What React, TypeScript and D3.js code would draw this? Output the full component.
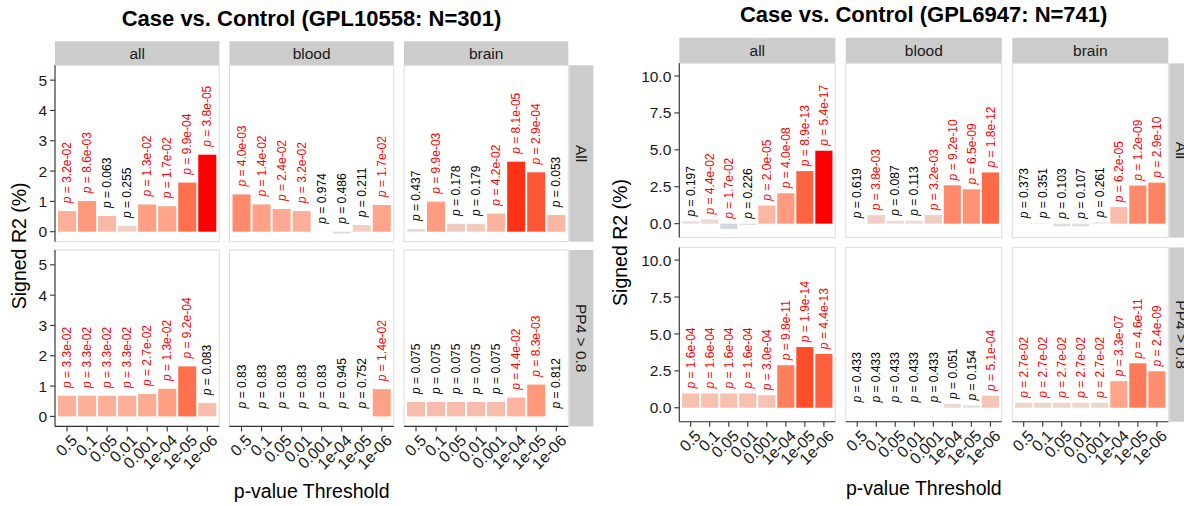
import React from "react";
import * as d3 from "d3";

// ---------- data ----------
const thresholds = ["0.5", "0.1", "0.05", "0.01", "0.001", "1e-04", "1e-05", "1e-06"];
const tissues = ["all", "blood", "brain"];
const subsets = ["All", "PP4 > 0.8"];

// GPL10558 (N=301): signed R2 (%) per tissue, subset "All"
const r2_10558_All = [
  [0.68, 1.01, 0.52, 0.19, 0.9, 0.84, 1.62, 2.54],
  [1.23, 0.9, 0.75, 0.68, 0.005, -0.06, 0.22, 0.88],
  [0.09, 0.99, 0.26, 0.26, 0.6, 2.31, 1.96, 0.55],
];
const p_10558_All = [
  ["3.2e-02", "8.6e-03", "0.063", "0.255", "1.3e-02", "1.7e-02", "9.9e-04", "3.8e-05"],
  ["4.0e-03", "1.4e-02", "2.4e-02", "3.2e-02", "0.974", "0.486", "0.211", "1.7e-02"],
  ["0.437", "9.9e-03", "0.178", "0.179", "4.2e-02", "8.1e-05", "2.9e-04", "0.053"],
];
// GPL10558, subset "PP4 > 0.8"
const r2_10558_PP4 = [
  [0.68, 0.68, 0.68, 0.68, 0.74, 0.91, 1.65, 0.44],
  [0.004, 0.004, 0.004, 0.004, 0.004, 0.001, 0.002, 0.9],
  [0.48, 0.48, 0.48, 0.48, 0.48, 0.62, 1.05, 0.003],
];
const p_10558_PP4 = [
  ["3.3e-02", "3.3e-02", "3.3e-02", "3.3e-02", "2.7e-02", "1.3e-02", "9.2e-04", "0.083"],
  ["0.83", "0.83", "0.83", "0.83", "0.83", "0.945", "0.752", "1.4e-02"],
  ["0.075", "0.075", "0.075", "0.075", "0.075", "4.4e-02", "8.3e-03", "0.812"],
];

// GPL6947 (N=741), subset "All"
const r2_6947_All = [
  [0.16, 0.29, -0.36, -0.09, 1.23, 2.06, 3.56, 4.94],
  [0.03, 0.58, 0.2, 0.2, 0.58, 2.6, 2.33, 3.47],
  [0.03, 0.03, -0.18, -0.18, 0.08, 1.12, 2.58, 2.78],
];
const p_6947_All = [
  ["0.197", "4.4e-02", "1.7e-02", "0.226", "2.0e-05", "4.0e-08", "8.9e-13", "5.4e-17"],
  ["0.619", "3.8e-03", "0.087", "0.113", "3.2e-03", "9.2e-10", "6.5e-09", "1.8e-12"],
  ["0.373", "0.351", "0.103", "0.107", "0.261", "6.2e-05", "1.2e-09", "2.9e-10"],
];
// GPL6947, subset "PP4 > 0.8"
const r2_6947_PP4 = [
  [0.97, 0.97, 0.97, 0.97, 0.85, 2.88, 4.11, 3.64],
  [0.02, 0.02, 0.02, 0.02, 0.02, 0.27, 0.16, 0.81],
  [0.34, 0.34, 0.34, 0.34, 0.34, 1.8, 3.01, 2.47],
];
const p_6947_PP4 = [
  ["1.6e-04", "1.6e-04", "1.6e-04", "1.6e-04", "3.0e-04", "9.8e-11", "1.9e-14", "4.4e-13"],
  ["0.433", "0.433", "0.433", "0.433", "0.433", "0.051", "0.154", "5.1e-04"],
  ["2.7e-02", "2.7e-02", "2.7e-02", "2.7e-02", "2.7e-02", "3.3e-07", "4.6e-11", "2.4e-09"],
];

const ticks10558 = [0, 1, 2, 3, 4, 5];
const ticks6947 = [0, 2.5, 5, 7.5, 10];

// ---------- layout ----------
const FONT = "'Liberation Sans', Arial, Helvetica, sans-serif";

const charts = [
  {
    title: "Case vs. Control (GPL10558: N=301)",
    r2: [r2_10558_All, r2_10558_PP4],
    p: [p_10558_All, p_10558_PP4],
    ticks: ticks10558,
    fmt: d3.format("d"),
    titleX: 311.5,
    titleY: 26,
    x0: 55,
    panelW: 164.3,
    gap: 10.2,
    stripTop: 41.3,
    rowTops: [65.3, 250],
    rowH: 176.4,
    domain: [-0.33, 5.49],
    yTitleX: 26,
    xTitleY: 498,
    labelOffset: 0.26,
  },
  {
    title: "Case vs. Control (GPL6947: N=741)",
    r2: [r2_6947_All, r2_6947_PP4],
    p: [p_6947_All, p_6947_PP4],
    ticks: ticks6947,
    fmt: d3.format(".1f"),
    titleX: 923.7,
    titleY: 22,
    x0: 679.3,
    panelW: 156,
    gap: 10.5,
    stripTop: 37.8,
    rowTops: [63.3, 247.4],
    rowH: 174.3,
    domain: [-0.944, 10.86],
    yTitleX: 627,
    xTitleY: 495,
    labelOffset: 0.33,
  },
];

const score = (v: number, p: string) => Math.sign(v || 1) * -Math.log10(parseFloat(p));

function Chart({ c }: { c: (typeof charts)[number] }) {
  let M = 0;
  c.r2.forEach((row, ri) => row.forEach((vals, ti) => vals.forEach((v, i) => {
    M = Math.max(M, Math.abs(score(v, c.p[ri][ti][i])));
  })));
  const pos = d3.interpolateLab("#e5e5e5", "#ff0000");
  const neg = d3.interpolateLab("#e5e5e5", "#3f64b4");
  const fill = (s: number) => (s >= 0 ? pos(Math.min(1, s / M)) : neg(Math.min(1, -s / M)));

  const panelsRight = c.x0 + 3 * c.panelW + 2 * c.gap;
  const bottom = c.rowTops[1] + c.rowH;
  const stripH = c.rowTops[0] - c.stripTop;

  return (
    <g>
      <text x={c.titleX} y={c.titleY} textAnchor="middle" fontSize={22} fontWeight="bold" fill="#000">
        {c.title}
      </text>
      {/* strips on top */}
      {tissues.map((t, ti) => {
        const px = c.x0 + ti * (c.panelW + c.gap);
        return (
          <g key={"s" + t}>
            <rect x={px} y={c.stripTop} width={c.panelW} height={stripH} fill="#cccccc" />
            <text x={px + c.panelW / 2} y={c.stripTop + stripH / 2} dy="0.36em" textAnchor="middle" fontSize={15.5} fill="#1a1a1a">
              {t}
            </text>
          </g>
        );
      })}
      {subsets.map((s, ri) => {
        const top = c.rowTops[ri];
        const y = d3.scaleLinear().domain(c.domain).range([top + c.rowH, top]);
        const sx = panelsRight + 1;
        return (
          <g key={"row" + s}>
            <rect x={sx} y={top} width={24} height={c.rowH} fill="#cccccc" />
            <text transform={`translate(${sx + 12},${top + c.rowH / 2}) rotate(90)`} dy="0.36em" textAnchor="middle" fontSize={15.5} fill="#1a1a1a">
              {s}
            </text>
            {tissues.map((t, ti) => {
              const px = c.x0 + ti * (c.panelW + c.gap);
              const x = d3.scalePoint<string>().domain(thresholds).range([px, px + c.panelW]).padding(0.6);
              const bw = x.step() * 0.9;
              const vals = c.r2[ri][ti];
              const ps = c.p[ri][ti];
              return (
                <g key={"p" + t}>
                  <rect x={px} y={top} width={c.panelW} height={c.rowH} fill="#fff" stroke="#dcdcdc" strokeWidth={1} />
                  {vals.map((v, i) => {
                    const xc = x(thresholds[i])!;
                    const y0 = y(0), y1 = y(v);
                    return (
                      <rect key={"b" + i} x={xc - bw / 2} y={Math.min(y0, y1)} width={bw} height={Math.abs(y1 - y0)} fill={fill(score(v, ps[i]))} />
                    );
                  })}
                  {vals.map((v, i) => {
                    const xc = x(thresholds[i])!;
                    const ly = y(Math.max(v, 0) + c.labelOffset);
                    const sig = parseFloat(ps[i]) < 0.05;
                    return (
                      <text key={"l" + i} transform={`translate(${xc},${ly}) rotate(-90)`} dy="0.35em" fontSize={12} fill={sig ? "#ff0000" : "#000"}>
                        <tspan fontStyle="italic">p</tspan>
                        {" = " + ps[i]}
                      </text>
                    );
                  })}
                  {/* y axis on first column */}
                  {ti === 0 && (
                    <g>
                      <line x1={px} x2={px} y1={top} y2={top + c.rowH} stroke="#333" strokeWidth={1.1} />
                      {c.ticks.map((tk) => (
                        <g key={"yt" + tk}>
                          <line x1={px - 5} x2={px} y1={y(tk)} y2={y(tk)} stroke="#333" strokeWidth={1.1} />
                          <text x={px - 8} y={y(tk)} dy="0.36em" textAnchor="end" fontSize={15.5} fill="#1a1a1a">
                            {c.fmt(tk)}
                          </text>
                        </g>
                      ))}
                    </g>
                  )}
                  {/* x axis on bottom row */}
                  {ri === 1 && (
                    <g>
                      <line x1={px} x2={px + c.panelW} y1={top + c.rowH} y2={top + c.rowH} stroke="#333" strokeWidth={1.1} />
                      {thresholds.map((th) => (
                        <g key={"xt" + th}>
                          <line x1={x(th)!} x2={x(th)!} y1={top + c.rowH} y2={top + c.rowH + 5} stroke="#333" strokeWidth={1.1} />
                          <text transform={`translate(${x(th)! + 3},${top + c.rowH + 7}) rotate(-45)`} dy="0.72em" textAnchor="end" fontSize={16} fill="#1a1a1a">
                            {th}
                          </text>
                        </g>
                      ))}
                    </g>
                  )}
                </g>
              );
            })}
          </g>
        );
      })}
      <text transform={`translate(${c.yTitleX},${(c.rowTops[0] + bottom) / 2}) rotate(-90)`} textAnchor="middle" fontSize={19.5} fill="#000">
        Signed R2 (%)
      </text>
      <text x={(c.x0 + panelsRight) / 2} y={c.xTitleY} textAnchor="middle" fontSize={19.5} fill="#000">
        p-value Threshold
      </text>
    </g>
  );
}

export default function App() {
  return (
    <svg
      width={1184}
      height={506}
      style={{ position: "absolute", left: 0, top: 0, background: "#fff" }}
      fontFamily={FONT}
    >
      <rect width={1184} height={506} fill="#fff" />
      {charts.map((c) => (
        <Chart key={c.title} c={c} />
      ))}
    </svg>
  );
}
